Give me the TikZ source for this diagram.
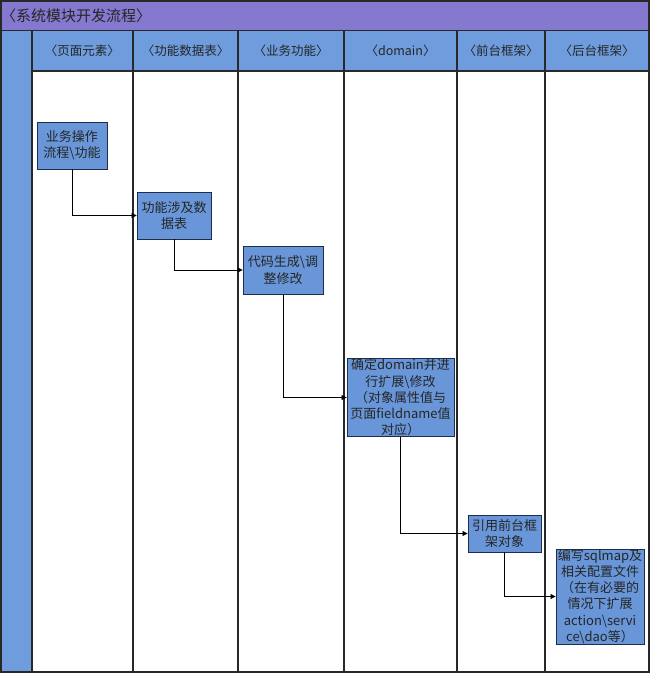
\documentclass[tikz,border=0pt]{standalone}
\usepackage{fontspec}
\setmainfont{Noto Sans CJK SC}
\usetikzlibrary{arrows.meta}
\definecolor{titlepurple}{RGB}{132,121,206}
\definecolor{headblue}{RGB}{110,156,220}
\definecolor{boxblue}{RGB}{104,150,216}
\definecolor{boxedge}{RGB}{30,45,75}
\definecolor{laneline}{RGB}{40,40,40}
\tikzset{
  lane/.style={draw=laneline, line width=1.3pt},
  stepbox/.style={draw=boxedge, fill=boxblue, line width=0.9pt, inner sep=0pt, align=center,
    font=\fontsize{13}{16.3}\selectfont, text=black!85},
  head/.style={font=\fontsize{12.5}{14}\selectfont, text=black!85},
  flow/.style={draw=black, line width=0.7pt, -{Triangle[length=5pt,width=5pt]}},
}
\begin{document}
\begin{tikzpicture}[x=1pt,y=-1pt]
\useasboundingbox (0,0) rectangle (650,673);
% title bar
\fill[titlepurple] (1,1) rectangle (649,31);
\draw[laneline, line width=1.3pt] (1,1) rectangle (649,31);
\node[anchor=west, inner sep=0pt, font=\fontsize{15}{17}\selectfont, text=black!85] (title) at (1,16) {〈系统模块开发流程〉};
% header row and left column
\fill[headblue] (1,31) rectangle (649,71);
\fill[headblue] (1,71) rectangle (32,672);
% lanes
\draw[lane] (1,1) -- (1,672) -- (649,672) -- (649,1);
\foreach \x in {32,133,238,344,457,545}{\draw[lane] (\x,31) -- (\x,672);}
\draw[lane] (32,71) -- (649,71);
% header labels
\node[head] (h1) at (82.5,51) {〈页面元素〉};
\node[head] (h2) at (185.5,51) {〈功能数据表〉};
\node[head] (h3) at (291,51) {〈业务功能〉};
\node[head] (h4) at (400.5,51) {〈domain〉};
\node[head] (h5) at (501,51) {〈前台框架〉};
\node[head] (h6) at (597,51) {〈后台框架〉};
% steps
\node[stepbox, minimum width=70pt, minimum height=47pt] (b1) at (72,145.5) {业务操作\\流程\textbackslash 功能};
\node[stepbox, minimum width=74pt, minimum height=47pt] (b2) at (174,215.5) {功能涉及数\\据表};
\node[stepbox, minimum width=80pt, minimum height=48pt] (b3) at (283,270) {代码生成\textbackslash 调\\整修改};
\node[stepbox, minimum width=107pt, minimum height=77pt] (b4) at (400.5,397.5) {确定domain并进\\行扩展\textbackslash 修改\\（对象属性值与\\页面fieldname值\\对应）};
\node[stepbox, minimum width=73pt, minimum height=37pt] (b5) at (504.5,533.5) {引用前台框\\架对象};
\node[stepbox, minimum width=88pt, minimum height=95pt] (b6) at (600,596.5) {编写sqlmap及\\相关配置文件\\（在有必要的\\情况下扩展\\action\textbackslash servi\\ce\textbackslash dao等）};
% connectors
\draw[flow] (b1.south) |- (b2.west);
\draw[flow] (b2.south) |- (b3.west);
\draw[flow] (b3.south) |- (b4.west);
\draw[flow] (b4.south) |- (b5.west);
\draw[flow] (b5.south) |- (b6.west);
\end{tikzpicture}
\end{document}
